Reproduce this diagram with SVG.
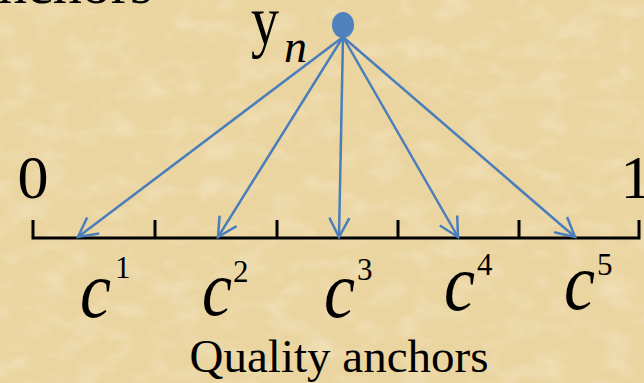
<svg xmlns="http://www.w3.org/2000/svg" width="644" height="383" viewBox="0 0 644 383">
  <defs>
    <filter id="paper" x="0" y="0" width="100%" height="100%">
      <feTurbulence type="fractalNoise" baseFrequency="0.03 0.05" numOctaves="3" seed="7" result="n"/>
      <feColorMatrix in="n" type="matrix" values="0 0 0 0 1  0 0 0 0 0.96  0 0 0 0 0.85  0 0 0 1.4 -0.6"/>
    </filter>
    <marker id="arr" viewBox="-21 -12 24 24" markerWidth="24" markerHeight="24" refX="0" refY="0" orient="auto" markerUnits="userSpaceOnUse">
      <path d="M-19,-10 L0,0 L-19,10" fill="none" stroke="#4A7EBB" stroke-width="2.5" stroke-linejoin="miter"/>
    </marker>
    <style>
      .serif { font-family: "Liberation Serif", "Times New Roman", serif; fill: #000; }
      .it { font-style: italic; }
      .sup { font-style: normal; font-size: 31px; }
      .conn { stroke: #4A7EBB; stroke-width: 2.5; fill: none; marker-end: url(#arr); }
      .axis { stroke: #000; stroke-width: 3; fill: none; }
    </style>
  </defs>
  <rect x="0" y="0" width="644" height="383" fill="#EAD49F"/>
  <rect x="0" y="0" width="644" height="383" filter="url(#paper)" opacity="0.45"/>

  <text class="serif" x="-2" y="3" font-size="58">nchors</text>

  <g id="axis">
    <path class="axis" d="M33,220 V238 H639 V220"/>
    <path class="axis" d="M155,220 V238 M277,220 V238 M398,220 V238 M519,220 V238"/>
    <text class="serif" x="33" y="198" font-size="62" text-anchor="middle">0</text>
    <text class="serif" x="636" y="198" font-size="62" text-anchor="middle">1</text>
  </g>

  <g id="yn">
    <ellipse cx="343" cy="25" rx="11" ry="13" fill="#4F81BD"/>
    <text class="serif" x="251" y="44" font-size="70"><tspan textLength="28" lengthAdjust="spacingAndGlyphs">y</tspan><tspan class="it" x="284" y="62" font-size="46">n</tspan></text>
  </g>

  <g id="connectors">
    <line class="conn" x1="343" y1="37" x2="78" y2="237"/>
    <line class="conn" x1="343" y1="37" x2="218" y2="237"/>
    <line class="conn" x1="343" y1="37" x2="339" y2="237"/>
    <line class="conn" x1="343" y1="37" x2="458" y2="237"/>
    <line class="conn" x1="343" y1="37" x2="575" y2="237"/>
  </g>

  <g id="c1">
    <text class="serif it" x="80" y="317" font-size="80"><tspan textLength="31" lengthAdjust="spacingAndGlyphs">c</tspan><tspan class="sup" x="115" y="278">1</tspan></text>
  </g>
  <g id="c2">
    <text class="serif it" x="202" y="315" font-size="78"><tspan textLength="30" lengthAdjust="spacingAndGlyphs">c</tspan><tspan class="sup" x="233" y="282">2</tspan></text>
  </g>
  <g id="c3">
    <text class="serif it" x="324" y="317" font-size="80"><tspan textLength="31" lengthAdjust="spacingAndGlyphs">c</tspan><tspan class="sup" x="357" y="280">3</tspan></text>
  </g>
  <g id="c4">
    <text class="serif it" x="444" y="310" font-size="80"><tspan textLength="31" lengthAdjust="spacingAndGlyphs">c</tspan><tspan class="sup" x="477" y="275">4</tspan></text>
  </g>
  <g id="c5">
    <text class="serif it" x="564" y="309" font-size="80"><tspan textLength="31" lengthAdjust="spacingAndGlyphs">c</tspan><tspan class="sup" x="597" y="275">5</tspan></text>
  </g>

  <text class="serif" x="339" y="372" font-size="47" text-anchor="middle">Quality anchors</text>
</svg>
